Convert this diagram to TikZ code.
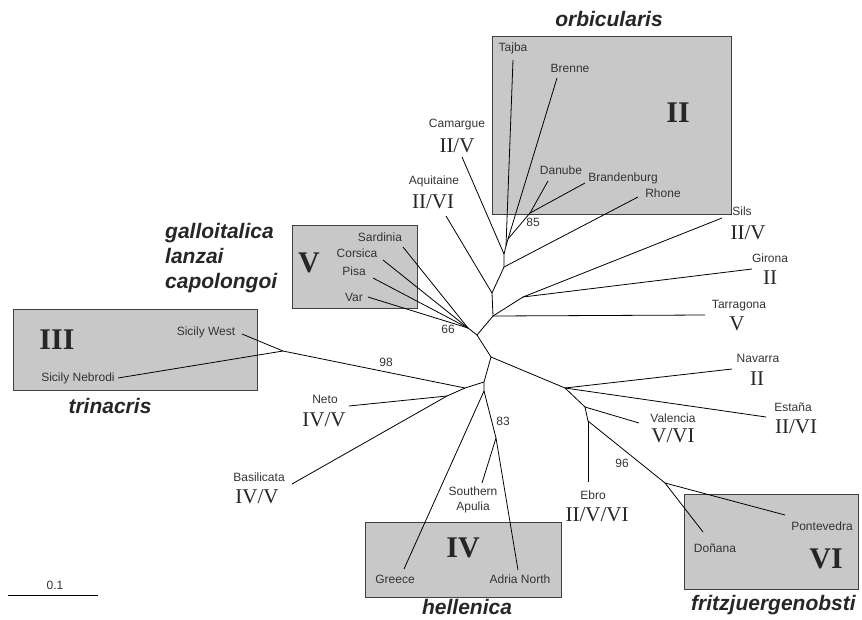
\documentclass[tikz,border=0pt]{standalone}
\usepackage{fontspec}
\setmainfont{Liberation Sans}
\newfontfamily\romfont{Liberation Serif}
\definecolor{boxgray}{RGB}{200,200,200}
\definecolor{boxedge}{RGB}{64,64,64}

\begin{document}
\begin{tikzpicture}[x=1pt, y=-1pt,
  branch/.style={line width=0.8pt},
  box/.style={fill=boxgray, draw=boxedge, line width=0.8pt},
  lbl/.style={font=\fontsize{12}{15}\selectfont, text=black!80, inner sep=0pt},
  clade/.style={font=\romfont\fontsize{21}{24}\selectfont, text=black!85, inner sep=0pt},
  grp/.style={font=\romfont\bfseries\fontsize{30}{34}\selectfont, text=black!85, inner sep=0pt},
  taxon/.style={font=\bfseries\itshape\fontsize{21}{25}\selectfont, text=black!85, inner sep=0pt}]
  \useasboundingbox (0,0) rectangle (862,619);

  % 灰色方框
  \draw[box] (492,36) rectangle (731,214);
  \draw[box] (292,225) rectangle (417,308);
  \draw[box] (13,309) rectangle (257,390);
  \draw[box] (365,522) rectangle (561,597);
  \draw[box] (684,494) rectangle (858,589);

  % 内部节点
  \coordinate (c) at (477,335);
  \coordinate (v66) at (468,328);
  \coordinate (u1) at (493,316);
  \coordinate (u2) at (492,293);
  \coordinate (sg) at (523,297);
  \coordinate (u3) at (504,267);
  \coordinate (u4) at (504,254);
  \coordinate (u5) at (506,246);
  \coordinate (u6) at (508,239);
  \coordinate (o85) at (530,213);
  \coordinate (d1) at (491,357);
  \coordinate (d2) at (484,382);
  \coordinate (d3) at (484,391);
  \coordinate (a83) at (496,438);
  \coordinate (s1) at (465,388);
  \coordinate (nb) at (447,396);
  \coordinate (sic) at (283,351);
  \coordinate (e1) at (565,388);
  \coordinate (e2) at (585,407);
  \coordinate (e3) at (588,421);
  \coordinate (e96) at (665,483);

  % 末端
  \coordinate (tTaj) at (513,60);
  \coordinate (tBre) at (557,78);
  \coordinate (tDan) at (548,181);
  \coordinate (tBra) at (585,183);
  \coordinate (tRho) at (638,197);
  \coordinate (tCam) at (462,157);
  \coordinate (tAqu) at (446,216);
  \coordinate (tSil) at (722,218);
  \coordinate (tGir) at (752,269);
  \coordinate (tTar) at (705,315);
  \coordinate (tSar) at (403,247);
  \coordinate (tCor) at (383,260);
  \coordinate (tPis) at (373,278);
  \coordinate (tVar) at (368,297);
  \coordinate (tSiW) at (242,334);
  \coordinate (tSiN) at (118,378);
  \coordinate (tNet) at (349,406);
  \coordinate (tBas) at (292,484);
  \coordinate (tGre) at (404,569);
  \coordinate (tSAp) at (482,483);
  \coordinate (tAdr) at (518,570);
  \coordinate (tNav) at (732,369);
  \coordinate (tEst) at (766,417);
  \coordinate (tVal) at (639,423);
  \coordinate (tEbr) at (588,482);
  \coordinate (tDon) at (703,532);
  \coordinate (tPon) at (785,515);

  % 分支
  \draw[branch] (v66) -- (c) -- (u1) -- (u2) -- (u3) -- (u4) -- (u5) -- (u6) -- (o85);
  \draw[branch] (u1) -- (sg);
  \draw[branch] (u1) -- (tTar);
  \draw[branch] (u2) -- (tAqu);
  \draw[branch] (u3) -- (tRho);
  \draw[branch] (u4) -- (tCam);
  \draw[branch] (u5) -- (tTaj);
  \draw[branch] (u6) -- (tBre);
  \draw[branch] (o85) -- (tDan);
  \draw[branch] (o85) -- (tBra);
  \draw[branch] (sg) -- (tSil);
  \draw[branch] (sg) -- (tGir);
  \draw[branch] (v66) -- (tSar);
  \draw[branch] (v66) -- (tCor);
  \draw[branch] (v66) -- (tPis);
  \draw[branch] (v66) -- (tVar);
  \draw[branch] (c) -- (d1) -- (d2) -- (d3) -- (a83) -- (tAdr);
  \draw[branch] (a83) -- (tSAp);
  \draw[branch] (d3) -- (tGre);
  \draw[branch] (d2) -- (s1) -- (nb) -- (tNet);
  \draw[branch] (nb) -- (tBas);
  \draw[branch] (s1) -- (sic) -- (tSiW);
  \draw[branch] (sic) -- (tSiN);
  \draw[branch] (d1) -- (e1) -- (e2) -- (e3) -- (e96) -- (tPon);
  \draw[branch] (e96) -- (tDon);
  \draw[branch] (e3) -- (tEbr);
  \draw[branch] (e2) -- (tVal);
  \draw[branch] (e1) -- (tNav);
  \draw[branch] (e1) -- (tEst);

  % 比例尺
  \coordinate (sb0) at (8,595);
  \coordinate (sb1) at (98,595);
  \draw[branch] (sb0) -- (sb1);
  \node[lbl] (lScale) at (55,585) {0.1};

  % 地名
  \node[lbl] (lTaj) at (513,48) {Tajba};
  \node[lbl] (lBre) at (570,68) {Brenne};
  \node[lbl] (lDan) at (561,170) {Danube};
  \node[lbl] (lBra) at (623,178) {Brandenburg};
  \node[lbl] (lRho) at (663,193) {Rhone};
  \node[lbl] (lCam) at (457,125) {Camargue};
  \node[lbl] (lAqu) at (434,181) {Aquitaine};
  \node[lbl] (lSil) at (742,211) {Sils};
  \node[lbl] (lGir) at (770,258) {Girona};
  \node[lbl] (lTar) at (739,306) {Tarragona};
  \node[lbl] (lNav) at (758,358) {Navarra};
  \node[lbl] (lEst) at (793,407) {Estaña};
  \node[lbl] (lVal) at (673,418) {Valencia};
  \node[lbl] (lEbr) at (593,495) {Ebro};
  \node[lbl] (lDon) at (715,548) {Doñana};
  \node[lbl] (lPon) at (822,526) {Pontevedra};
  \node[lbl] (lSar) at (380,237) {Sardinia};
  \node[lbl] (lCor) at (357,253) {Corsica};
  \node[lbl] (lPis) at (354,271) {Pisa};
  \node[lbl] (lVar) at (354,297) {Var};
  \node[lbl] (lSiW) at (206,332) {Sicily West};
  \node[lbl] (lSiN) at (78,378) {Sicily Nebrodi};
  \node[lbl] (lNet) at (325,399) {Neto};
  \node[lbl] (lBas) at (259,477) {Basilicata};
  \node[lbl, align=center] (lSAp) at (473,500) {Southern\\Apulia};
  \node[lbl] (lGre) at (395,579) {Greece};
  \node[lbl] (lAdr) at (520,579) {Adria North};

  % 支持率
  \node[lbl] (b85) at (533,222) {85};
  \node[lbl] (b66) at (448,329) {66};
  \node[lbl] (b98) at (386,362) {98};
  \node[lbl] (b83) at (503,421) {83};
  \node[lbl] (b96) at (622,463) {96};

  % 单倍型组
  \node[clade] (hCam) at (457,146) {II/V};
  \node[clade] (hAqu) at (433,202) {II/VI};
  \node[clade] (hSil) at (748,233) {II/V};
  \node[clade] (hGir) at (770,278) {II};
  \node[clade] (hTar) at (737,324) {V};
  \node[clade] (hNav) at (757,379) {II};
  \node[clade] (hEst) at (796,427) {II/VI};
  \node[clade] (hVal) at (673,436) {V/VI};
  \node[clade] (hEbr) at (597,515) {II/V/VI};
  \node[clade] (hNet) at (324,420) {IV/V};
  \node[clade] (hBas) at (257,497) {IV/V};
  \node[grp] (gII) at (678,113) {II};
  \node[grp] (gV) at (309,263) {V};
  \node[grp] (gIII) at (57,340) {III};
  \node[grp] (gIV) at (463,548) {IV};
  \node[grp] (gVI) at (826,559) {VI};

  % 亚种名
  \node[taxon] (nOrb) at (609,19) {orbicularis};
  \node[taxon, align=left, anchor=west] (nGal) at (165,258) {galloitalica\\lanzai\\capolongoi};
  \node[taxon] (nTri) at (110,406) {trinacris};
  \node[taxon] (nHel) at (467,607) {hellenica};
  \node[taxon, anchor=west] (nFri) at (691,605) {fritzjuergenobsti};

\end{tikzpicture}
\end{document}
